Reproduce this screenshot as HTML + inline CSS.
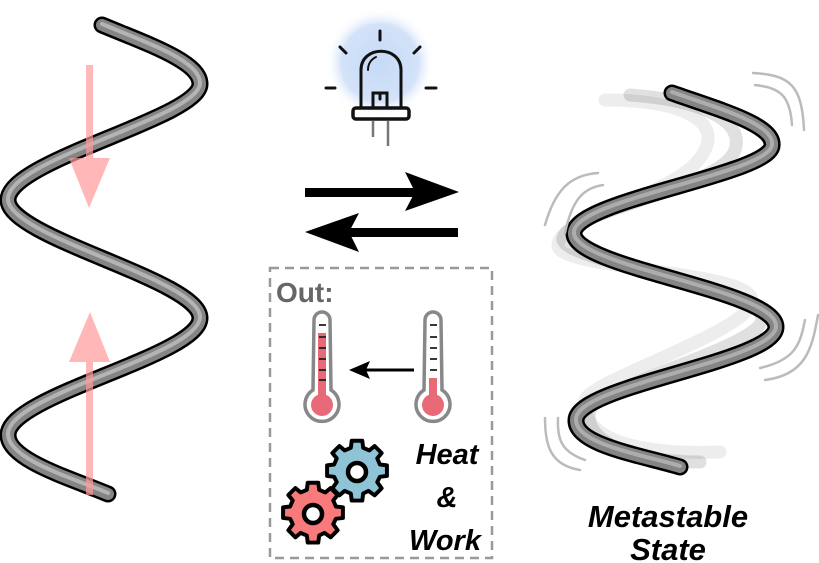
<!DOCTYPE html>
<html><head><meta charset="utf-8"><style>
html,body{margin:0;padding:0;background:#fff;}
svg{display:block;}
text{font-family:"Liberation Sans",sans-serif;font-weight:bold;}
</style></head><body>
<svg width="819" height="563" viewBox="0 0 819 563" xmlns="http://www.w3.org/2000/svg">
<defs>
<radialGradient id="glow" cx="0.5" cy="0.5" r="0.5">
<stop offset="0" stop-color="#c6daf7"/><stop offset="0.7" stop-color="#d3e2f8"/><stop offset="1" stop-color="#fff" stop-opacity="0"/>
</radialGradient>
<g id="gear">
<path d="M-6,-27 L6,-27 L7,-19 L14,-16 L20,-21 L28,-13 L23,-7 L26,0 L26,0 L34,1 L34,13 L26,14 L23,20 L28,27 L20,35 L13,30 L7,33 L6,41 L-6,41 L-7,33 L-14,30 L-20,35 L-28,27 L-23,20 L-26,14 L-34,13 L-34,1 L-26,0 L-23,-7 L-28,-13 L-20,-21 L-14,-16 L-7,-19 Z" transform="translate(0,-7.5) scale(0.88)" stroke="#000" stroke-width="4.5" stroke-linejoin="round"/>
<circle cx="0" cy="0" r="9" fill="#fff" stroke="#000" stroke-width="4.5"/>
</g>
</defs>

<!-- left helix -->
<g fill="none" stroke-linecap="round" stroke-linejoin="round">
<path d="M102,25 C150,45 200,62 200,84 C200,118 8,160 8,200 C8,238 200,280 200,318 C200,356 8,395 8,435 C8,460 70,478 108,494" stroke="#000" stroke-width="17"/>
<path d="M102,25 C150,45 200,62 200,84 C200,118 8,160 8,200 C8,238 200,280 200,318 C200,356 8,395 8,435 C8,460 70,478 108,494" stroke="#858585" stroke-width="12"/>
<path d="M102,24 C150,44 200,61 200,83 C200,117 8,159 8,199 C8,237 200,279 200,317 C200,355 8,394 8,434 C8,459 70,477 108,493" stroke="#c8c8c8" stroke-width="4" opacity="0.7"/>
</g>
<!-- pink arrows -->
<g fill="#ff9a9a" opacity="0.7">
<rect x="86" y="65" width="7" height="100"/>
<polygon points="69,158 110,158 89,208"/>
<rect x="86" y="355" width="7" height="140"/>
<polygon points="69,362 110,362 90,312"/>
</g>

<!-- right helix ghosts -->
<g fill="none" stroke-linecap="round" stroke-linejoin="round">
<path d="M605,100 C680,100 720,120 705,150 C685,195 560,215 558,245 C556,270 750,270 752,300 C754,330 590,380 585,400 C580,440 640,455 720,452" stroke="#000" stroke-width="13" opacity="0.07"/>
<path d="M630,95 C700,100 745,120 735,150 C720,190 570,210 563,238 C558,262 758,285 762,318 C766,345 600,385 590,410 C582,440 630,462 700,462" stroke="#000" stroke-width="13" opacity="0.12"/>
<path d="M672,93 C720,110 775,125 772,146 C768,175 575,200 574,233 C572,268 776,290 776,327 C776,362 577,385 576,420 C575,445 640,455 680,467" stroke="#000" stroke-width="17"/>
<path d="M672,93 C720,110 775,125 772,146 C768,175 575,200 574,233 C572,268 776,290 776,327 C776,362 577,385 576,420 C575,445 640,455 680,467" stroke="#858585" stroke-width="12"/>
<path d="M672,92 C720,109 775,124 772,145 C768,174 575,199 574,232 C572,267 776,289 776,326 C776,361 577,384 576,419 C575,444 640,454 680,466" stroke="#c8c8c8" stroke-width="4" opacity="0.6"/>
</g>
<!-- vibration marks -->
<g fill="none" stroke="#bbb" stroke-width="2.5" stroke-linecap="round">
<path d="M753,73 C790,75 802,85 804,130"/>
<path d="M755,85 C780,88 790,95 792,125"/>
<path d="M598,173 C570,175 555,190 545,225"/>
<path d="M603,185 C583,188 572,200 565,233"/>
<path d="M818,315 C812,350 805,375 765,380"/>
<path d="M805,320 C800,345 795,360 760,368"/>
<path d="M545,418 C545,445 550,465 580,470"/>
<path d="M558,418 C557,440 562,452 585,460"/>
</g>
<text x="668" y="527" font-size="31" font-style="italic" text-anchor="middle">Metastable</text>
<text x="668" y="560" font-size="31" font-style="italic" text-anchor="middle">State</text>

<!-- LED -->
<circle cx="380" cy="63" r="55" fill="url(#glow)"/>
<g stroke="#111" stroke-width="3" fill="none" stroke-linecap="round">
<line x1="380" y1="31" x2="380" y2="40"/>
<line x1="340" y1="47" x2="346" y2="53"/>
<line x1="420" y1="47" x2="414" y2="53"/>
<line x1="326" y1="88" x2="335" y2="88"/>
<line x1="426" y1="88" x2="436" y2="88"/>
<path d="M361,108 L361,70 C361,45 401,45 401,70 L401,108"/>
<path d="M368,70 C368,63 372,59 376,57" stroke-width="2"/>
<rect x="353" y="108" width="56" height="11" rx="3" stroke-width="3.5"/>
<path d="M373,108 L373,93 L387,93 L387,108 M380,93 L380,99"/>
</g>
<g stroke="#777" stroke-width="2.5"><line x1="373" y1="121" x2="373" y2="137"/><line x1="388" y1="121" x2="388" y2="146"/></g>

<!-- equilibrium arrows -->
<rect x="305" y="188" width="130" height="9" fill="#000"/>
<path d="M459,192 L405,172 L415,192 L405,211 Z" fill="#000"/>
<rect x="328" y="228" width="130" height="9" fill="#000"/>
<path d="M305,232 L359,213 L349,232 L359,252 Z" fill="#000"/>

<!-- dashed box -->
<rect x="270" y="268" width="222" height="290" fill="none" stroke="#999" stroke-width="2.5" stroke-dasharray="9,6"/>
<text x="276" y="302" font-size="28" fill="#666">Out:</text>

<!-- thermometers -->
<g>
<path d="M314,320 a8,8 0 0 1 16,0 L331,390 A17,17 0 1 1 313,390 Z" fill="#fff" stroke="#888" stroke-width="3.5"/>
<rect x="318" y="333" width="8" height="65" fill="#e86a78"/>
<circle cx="322" cy="405" r="11" fill="#e86a78"/>
<g stroke="#222" stroke-width="1.8"><line x1="319" y1="325" x2="326" y2="325"/><line x1="319" y1="337" x2="326" y2="337"/><line x1="319" y1="348" x2="326" y2="348"/><line x1="319" y1="359" x2="326" y2="359"/><line x1="319" y1="370" x2="326" y2="370"/><line x1="319" y1="380" x2="326" y2="380"/></g>
</g>
<g>
<path d="M425,320 a8,8 0 0 1 16,0 L442,390 A17,17 0 1 1 424,390 Z" fill="#fff" stroke="#888" stroke-width="3.5"/>
<rect x="429" y="378" width="8" height="20" fill="#e86a78"/>
<circle cx="433" cy="405" r="11" fill="#e86a78"/>
<g stroke="#222" stroke-width="1.8"><line x1="430" y1="325" x2="437" y2="325"/><line x1="430" y1="337" x2="437" y2="337"/><line x1="430" y1="348" x2="437" y2="348"/><line x1="430" y1="359" x2="437" y2="359"/><line x1="430" y1="370" x2="437" y2="370"/></g>
</g>
<line x1="366" y1="370" x2="414" y2="370" stroke="#000" stroke-width="3"/>
<path d="M349,370 L370,361 L366,370 L370,379 Z" fill="#000"/>

<!-- gears -->
<g fill="#8fc4d6" transform="translate(357,472)"><use href="#gear"/></g>
<g fill="#f97a7a" transform="translate(313,514)"><use href="#gear"/></g>

<text x="447" y="464" font-size="29" font-style="italic" text-anchor="middle">Heat</text>
<text x="447" y="507" font-size="29" font-style="italic" text-anchor="middle">&amp;</text>
<text x="445" y="550" font-size="29" font-style="italic" text-anchor="middle">Work</text>
</svg>
</body></html>
